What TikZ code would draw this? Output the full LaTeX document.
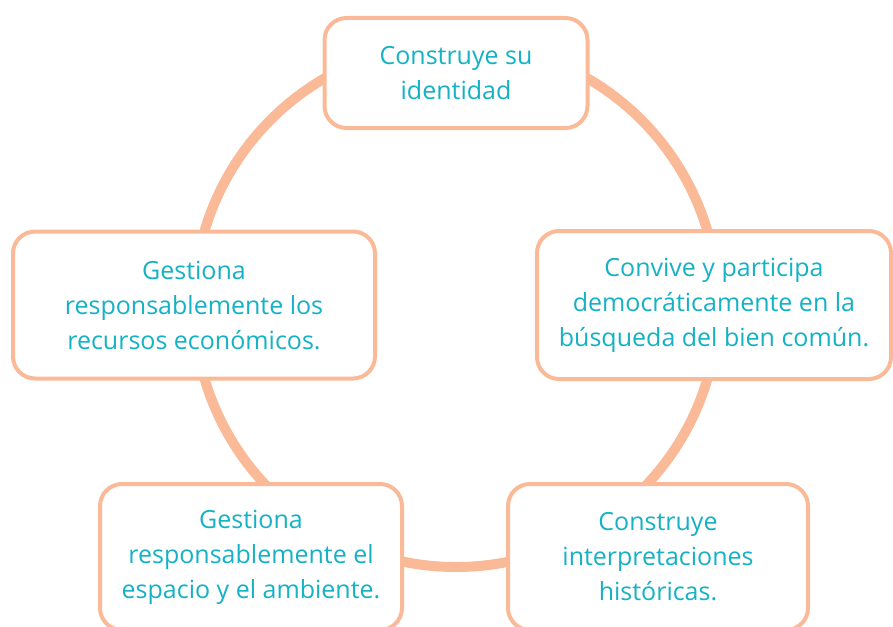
\documentclass[tikz,border=0pt]{standalone}
\usepackage{fontspec}
\setmainfont{Open Sans}
\definecolor{durazno}{RGB}{250,186,152}
\definecolor{turquesa}{RGB}{20,178,196}
\tikzset{
  caja/.style={draw=durazno, line width=4pt, fill=white, rounded corners=22pt,
    align=center, text=turquesa, inner sep=0pt,
    font=\fontsize{25}{35}\selectfont},
}
\begin{document}
\begin{tikzpicture}[x=1pt,y=-1pt]
    \useasboundingbox (0,0) rectangle (893,626);
    \clip (0,0) rectangle (893,626);

    % Círculo de fondo
    \coordinate (centro) at (456,305);
    \draw[durazno, line width=10pt] (centro) circle[radius=262];

    % Competencias
    \node[caja, minimum width=263, minimum height=110] (identidad) at (456,73)
        {Construye su\\identidad};
    \node[caja, minimum width=354, minimum height=148] (convive) at (714,305)
        {Convive y participa\\democráticamente en la\\búsqueda del bien común.};
    \node[caja, minimum width=362, minimum height=147] (recursos) at (194,305)
        {Gestiona\\responsablemente los\\recursos económicos.};
    \node[caja, minimum width=302, minimum height=146] (espacio) at (251,557)
        {Gestiona\\responsablemente el\\espacio y el ambiente.};
    \node[caja, minimum width=300, minimum height=146] (historia) at (658,557)
        {Construye\\interpretaciones\\históricas.};
\end{tikzpicture}
\end{document}
